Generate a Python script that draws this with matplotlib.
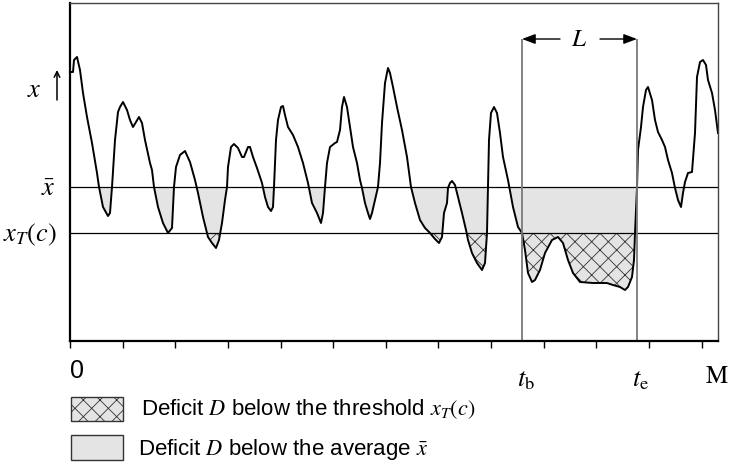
import matplotlib
matplotlib.use("Agg")
import matplotlib.pyplot as plt
from matplotlib.patches import Rectangle
import numpy as np

# -----------------------------
# DATA (time in days, flow in arbitrary units)
# -----------------------------
t = np.array([
    0, 3, 4, 7, 10, 13, 17, 22, 27, 29, 33, 38, 40, 42, 45, 48, 50, 53, 57, 60,
    63, 66, 69, 72, 75, 80, 82, 84, 88, 93, 98, 102, 104, 106, 110, 115, 120, 125, 128, 133,
    138, 142, 146, 149, 152, 155, 157, 158, 161, 164, 168, 172, 174, 178, 180, 183, 187, 192, 195, 198,
    201, 203, 204, 206, 208, 211, 213, 215, 218, 223, 228, 233, 238, 242, 247, 251, 253, 255, 257, 260,
    265, 267, 270, 272, 274, 277, 280, 283, 287, 290, 292, 295, 298, 300, 302, 305, 308, 310, 312, 315,
    318, 320, 323, 327, 332, 337, 341, 345, 350, 355, 360, 365, 369, 372, 374, 377, 378, 380, 382, 385,
    387, 392, 396, 398, 402, 407, 412, 415, 417, 418, 419, 421, 424, 427, 430, 433, 438, 443, 448, 452,
    455, 458, 462, 465, 470, 475, 482, 488, 493, 498, 503, 510, 523, 537, 543, 550, 555, 558, 562, 564,
    565, 567, 568, 571, 573, 576, 578, 582, 585, 588, 592, 595, 598, 602, 605, 608, 611, 613, 615, 618,
    622, 625, 627, 630, 633, 636, 638, 642, 645, 648,
])
flow = np.array([
    269, 269, 281, 284, 271, 248, 224, 198, 168, 154, 134, 125, 128, 154, 201, 229, 234, 239, 231, 221,
    214, 219, 224, 218, 201, 178, 171, 154, 134, 118, 108, 113, 154, 174, 186, 190, 179, 161, 148, 124,
    104, 98, 93, 101, 118, 141, 154, 174, 194, 197, 193, 184, 184, 194, 194, 184, 173, 158, 144, 134,
    130, 134, 154, 201, 221, 234, 235, 226, 214, 206, 194, 178, 158, 138, 128, 118, 128, 154, 178, 194,
    198, 199, 211, 234, 244, 234, 214, 194, 178, 161, 153, 138, 128, 122, 128, 141, 154, 178, 218, 258,
    273, 268, 254, 234, 211, 184, 154, 138, 121, 113, 108, 102, 98, 104, 128, 138, 153, 158, 160, 156,
    148, 128, 111, 101, 88, 78, 71, 78, 108, 153, 201, 228, 234, 228, 208, 184, 161, 134, 114, 108,
    91, 68, 59, 61, 71, 88, 101, 104, 98, 81, 68, 59, 58, 58, 56, 54, 51, 54, 64, 81,
    108, 153, 191, 214, 234, 251, 254, 241, 221, 209, 201, 194, 181, 168, 153, 141, 134, 148, 159, 168,
    169, 208, 264, 279, 281, 276, 261, 248, 231, 208,
])
MEAN = 154
THRESHOLD = 108
T_B = 452
T_E = 567
T_END = 648
TICK_STEP = 52.64
N_TICKS = 13

# -----------------------------
# STYLE
# -----------------------------
plt.rcParams["mathtext.fontset"] = "stix"
plt.rcParams["font.family"] = ["Liberation Sans", "DejaVu Sans"]
plt.rcParams["hatch.linewidth"] = 0.6
FILL = "#e4e4e4"

fig = plt.figure(figsize=(7.31, 4.66), dpi=100)
ax = fig.add_axes([70 / 731, 125 / 466, 648 / 731, 338 / 466])

# -----------------------------
# PLOT
# -----------------------------
ax.fill_between(t, flow, MEAN, where=flow < MEAN, interpolate=True,
                facecolor=FILL, linewidth=0)
ax.fill_between(t, flow, THRESHOLD, where=flow < THRESHOLD, interpolate=True,
                facecolor=FILL, edgecolor="#333333", hatch="xx", linewidth=0)
ax.axhline(MEAN, color="black", lw=0.9)
ax.axhline(THRESHOLD, color="black", lw=0.9)
ax.plot(t, flow, color="black", lw=1.4)

top = 302
ax.vlines([T_B, T_E], 0, top, color="#7a7a7a", lw=1.3)
ax.annotate("", xy=(T_B, top), xytext=(T_B + 38, top),
            arrowprops=dict(arrowstyle="-|>,head_length=0.8,head_width=0.3",
                            color="black", lw=1.0, shrinkA=0, shrinkB=0))
ax.annotate("", xy=(T_E, top), xytext=(T_E - 37, top),
            arrowprops=dict(arrowstyle="-|>,head_length=0.8,head_width=0.3",
                            color="black", lw=1.0, shrinkA=0, shrinkB=0))
ax.text((T_B + T_E) / 2, top, r"$L$", fontsize=18, ha="center", va="center")

ax.set_xlim(0, T_END)
ax.set_ylim(0, 338)
ax.set_xticks(np.arange(N_TICKS) * TICK_STEP)
ax.set_xticklabels([])
ax.set_yticks([])
ax.tick_params(axis="x", direction="out", length=5, width=1)
for side in ["left", "bottom"]:
    ax.spines[side].set_linewidth(1.6)
for side in ["top", "right"]:
    ax.spines[side].set_linewidth(1.0)
    ax.spines[side].set_color("#444444")

# axis labels
ax.text(-36, 251, r"$x$", fontsize=19, ha="center", va="center", clip_on=False)
ax.annotate("", xy=(-13, 271), xytext=(-13, 241), annotation_clip=False,
            arrowprops=dict(arrowstyle="->", color="black", lw=1.1, shrinkA=0, shrinkB=0))
ax.text(-22, 152, r"$\bar{x}$", fontsize=19, ha="center", va="center", clip_on=False)
ax.text(-13, 106, r"$x_T(c)$", fontsize=19, ha="right", va="center", clip_on=False)

ax.text(0, -30, "0", fontsize=18, ha="left", va="center", clip_on=False)
ax.text(T_B + 4, -39, r"$t_{\mathrm{b}}$", fontsize=19, ha="center", va="center", clip_on=False)
ax.text(T_E + 4, -39, r"$t_{\mathrm{e}}$", fontsize=19, ha="center", va="center", clip_on=False)
ax.text(T_END + 11, -35, r"$\mathrm{M}$", fontsize=18, ha="right", va="center", clip_on=False)

# -----------------------------
# LEGEND
# -----------------------------
W, H = 731, 466
fig.add_artist(Rectangle((71 / W, (H - 421) / H), 52 / W, 24 / H, transform=fig.transFigure,
                         facecolor=FILL, edgecolor="#333333", hatch="xx", lw=1.0))
fig.add_artist(Rectangle((71 / W, (H - 460) / H), 52 / W, 25 / H, transform=fig.transFigure,
                         facecolor=FILL, edgecolor="#333333", lw=1.0))
fig.text(141 / W, (H - 409) / H, r"Deficit $D$ below the threshold $x_T(c)$",
         fontsize=16, ha="left", va="center")
fig.text(138 / W, (H - 449) / H, r"Deficit $D$ below the average $\bar{x}$",
         fontsize=16, ha="left", va="center")

fig.savefig("out.png", dpi=100)
